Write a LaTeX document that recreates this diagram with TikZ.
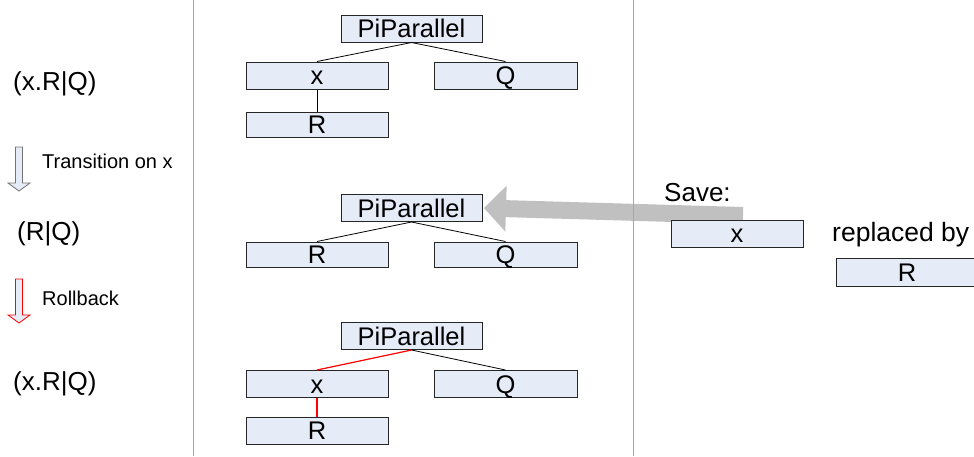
\documentclass[tikz,border=0pt]{standalone}
\usepackage{fontspec}
\setmainfont{Liberation Sans}
\usetikzlibrary{calc}
\definecolor{boxfill}{HTML}{E6ECF7}
\definecolor{bigarrow}{HTML}{C0C0C0}
\definecolor{divider}{HTML}{A6A6A6}
\begin{document}
\begin{tikzpicture}[x=1pt,y=-1pt,
  bx/.style={draw=black!85, line width=1pt, fill=boxfill, inner sep=0pt,
    minimum width=142pt, minimum height=27pt, text height=18.5pt, text depth=0pt,
    font=\fontsize{25.5}{28}\selectfont},
  big/.style={inner sep=0pt, anchor=base west, font=\fontsize{26}{29}\selectfont},
  small/.style={inner sep=0pt, anchor=base west, font=\fontsize{20}{22}\selectfont},
  tedge/.style={draw=black, line width=0.8pt},
  redtedge/.style={draw=red, line width=1.2pt},
  hollow/.style={line width=0.8pt, fill=boxfill}]
\useasboundingbox (0,0) rectangle (974,456);
\clip (0,0) rectangle (974,456);

% big gray arrow (behind everything)
\coordinate (T) at (743,215.5);
\coordinate (P) at (484,208);
\coordinate (B) at ($(P)!22pt!(T)$);
\fill[bigarrow] ($(T)!8.5pt!90:(P)$) -- ($(B)!8.5pt!-90:(T)$) -- ($(B)!23pt!-90:(T)$)
  -- (P) -- ($(B)!23pt!90:(T)$) -- ($(B)!8.5pt!90:(T)$) -- ($(T)!8.5pt!-90:(P)$) -- cycle;

% dividers
\draw[divider, line width=1pt] (193,0) -- (193,456);
\draw[divider, line width=1pt] (633,0) -- (633,456);

% left column
\node[big] (l1) at (13,90) {(x.R|Q)};
\node[big] (l2) at (17,240) {(R|Q)};
\node[big] (l3) at (13,390) {(x.R|Q)};
\node[small] (t1) at (42,168) {Transition on x};
\node[small] (t2) at (42,305) {Rollback};
\draw[hollow, draw=black!55] (15.5,147) -- (22.5,147) -- (22.5,183) -- (30,183) -- (19,191)
  -- (8,183) -- (15.5,183) -- cycle;
\draw[hollow, draw=red] (15.5,279) -- (22.5,279) -- (22.5,315) -- (30,315) -- (19,323)
  -- (8,315) -- (15.5,315) -- cycle;

% tree 1
\node[bx, minimum width=141pt] (p1) at (411.5,28.5) {PiParallel};
\node[bx] (x1) at (317,75.5) {x};
\node[bx, minimum width=143pt] (q1) at (505.5,75.5) {Q};
\node[bx, minimum height=25pt] (r1) at (317,124.5) {R};
\draw[tedge] (p1.south) -- (x1.north);
\draw[tedge] (p1.south) -- (q1.north);
\draw[tedge] (x1.south) -- (r1.north);

% tree 2
\node[bx, minimum width=141pt] (p2) at (411.5,208) {PiParallel};
\node[bx, minimum height=25pt] (r2) at (317,254.5) {R};
\node[bx, minimum width=143pt, minimum height=25pt] (q2) at (505.5,254.5) {Q};
\draw[tedge] (p2.south) -- (r2.north);
\draw[tedge] (p2.south) -- (q2.north);

% tree 3
\node[bx, minimum width=141pt] (p3) at (411.5,336) {PiParallel};
\node[bx] (x3) at (317,384) {x};
\node[bx, minimum width=143pt] (q3) at (505.5,384) {Q};
\node[bx] (r3) at (317,430.5) {R};
\draw[redtedge] (p3.south) -- (x3.north);
\draw[tedge] (p3.south) -- (q3.north);
\draw[redtedge] (x3.south) -- (r3.north);

% right column
\node[big] (save) at (664,201) {Save:};
\node[bx, minimum width=132pt] (xs) at (737,233.5) {x};
\node[big, font=\fontsize{26.5}{29}\selectfont] (rep) at (832,241) {replaced by};
\node[bx, minimum width=142pt, minimum height=28pt] (rs) at (907,272) {R};
\end{tikzpicture}
\end{document}
